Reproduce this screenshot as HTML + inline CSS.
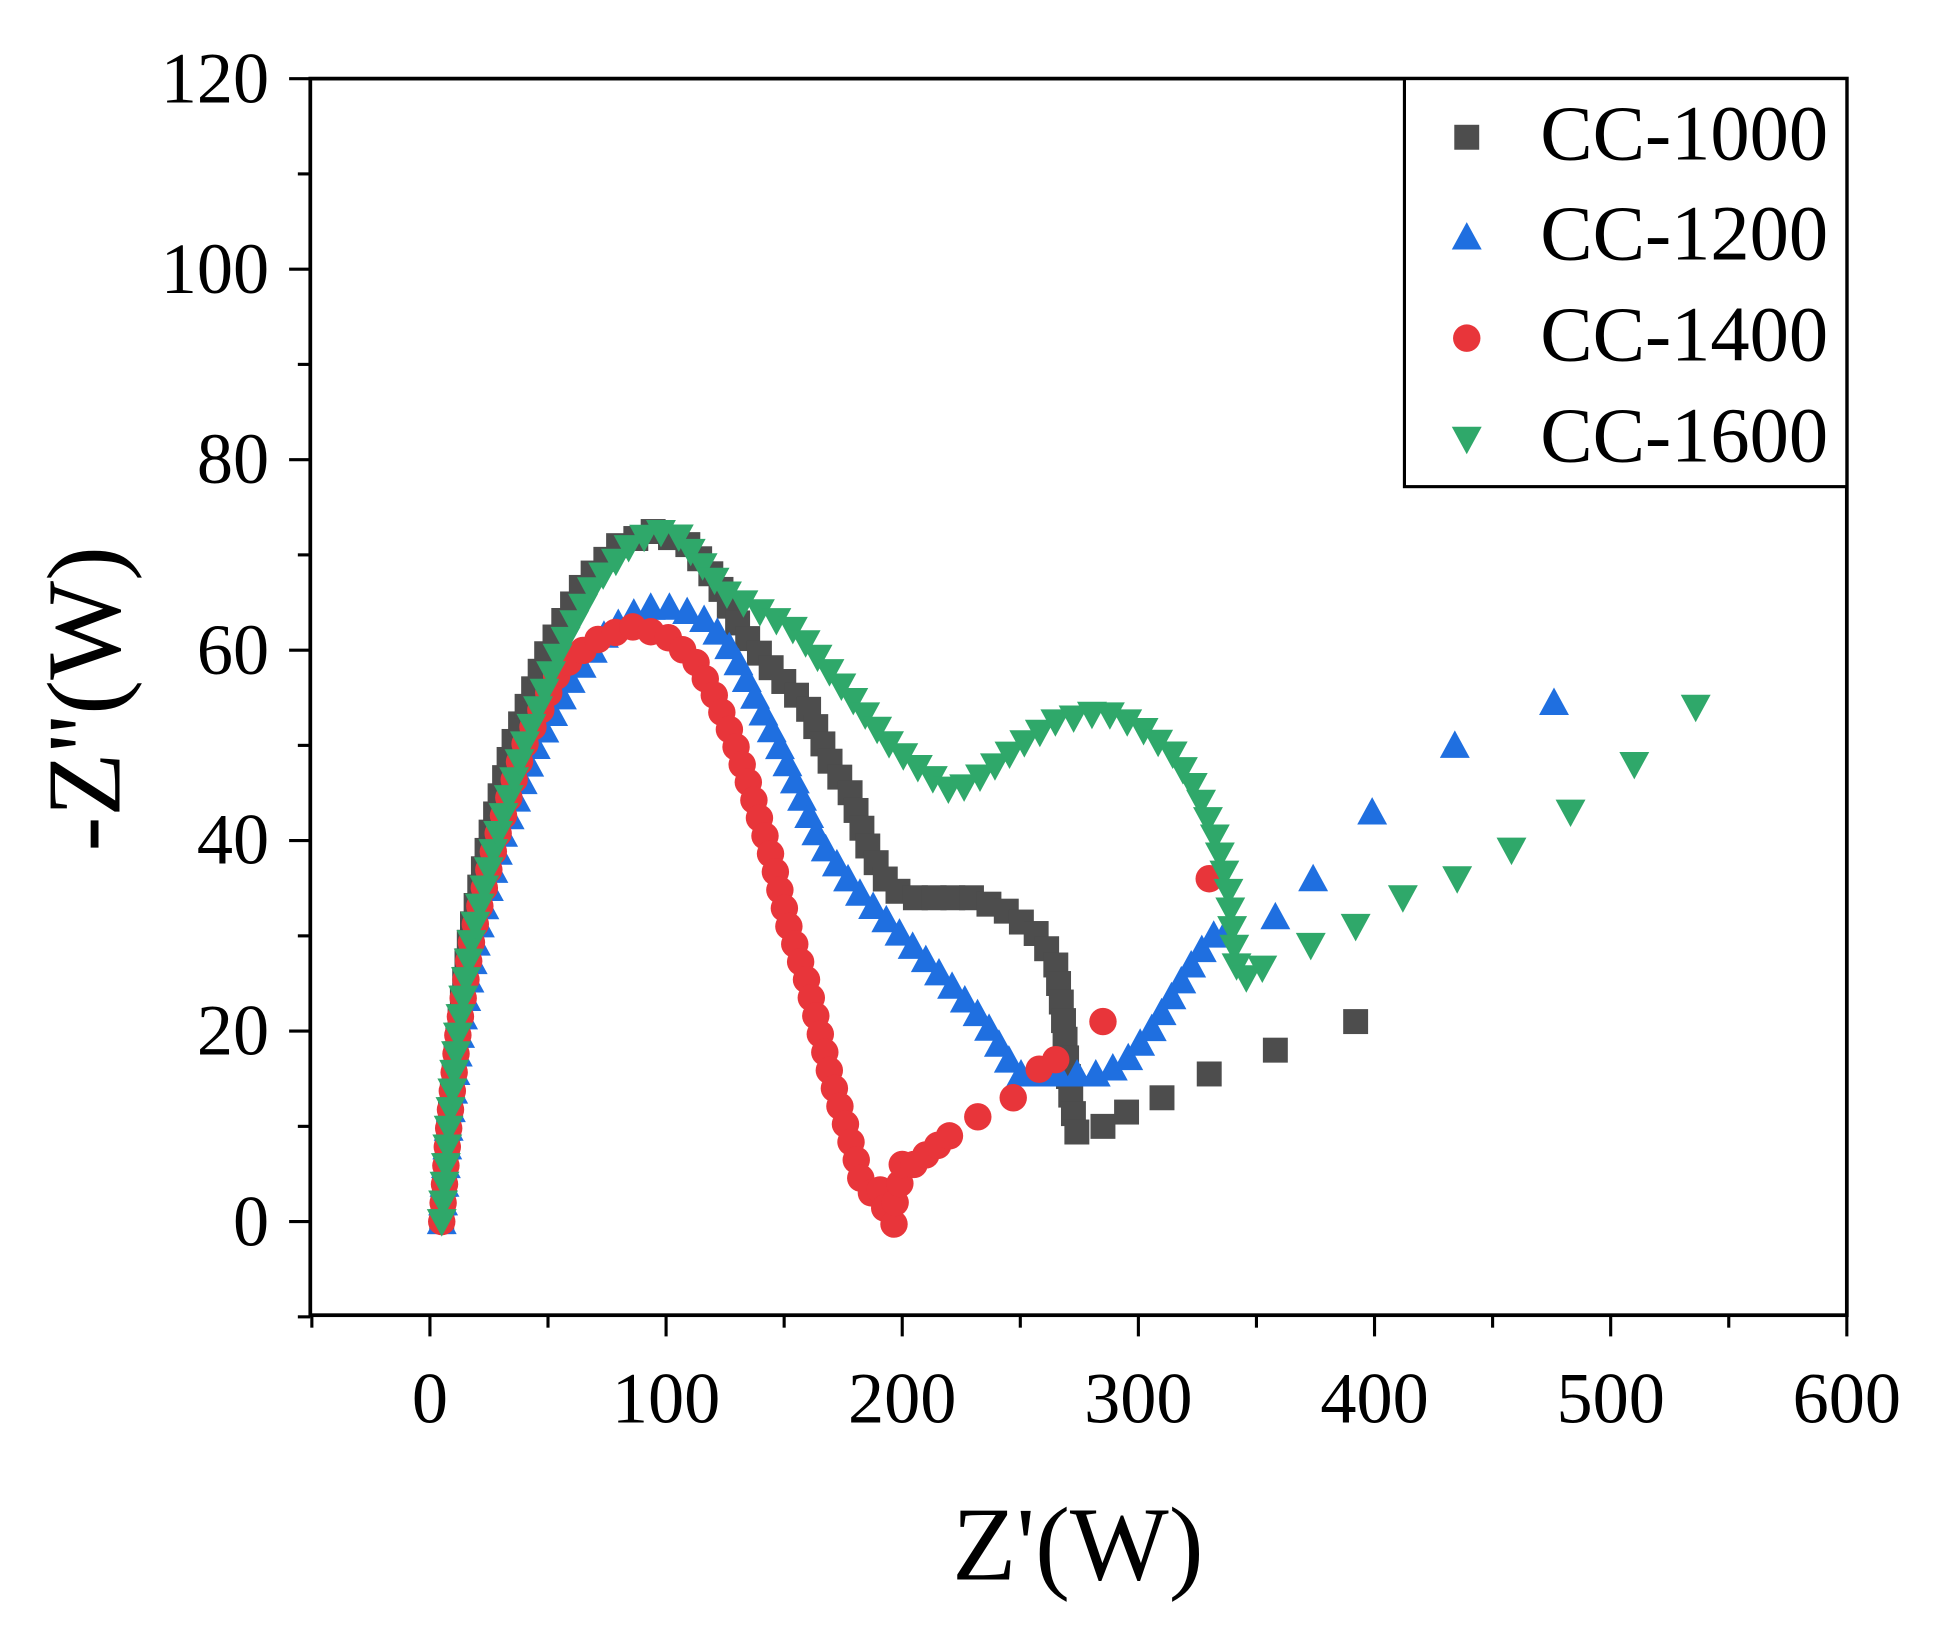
<!DOCTYPE html>
<html><head><meta charset="utf-8"><style>html,body{margin:0;padding:0;background:#fff}svg{display:block}</style></head>
<body>
<svg id="s" width="1954" height="1634" viewBox="0 0 1568 1309.5" preserveAspectRatio="none" xmlns="http://www.w3.org/2000/svg" font-family="Liberation Serif, serif">
<rect x="0" y="0" width="1570" height="1310" fill="#fff"/>
<g id="ticks" stroke="#000" stroke-width="2.5"></g>
<g id="pts"></g>
<rect x="249" y="63" width="1233" height="991" fill="none" stroke="#000" stroke-width="3"/>
<g font-size="58" text-anchor="middle" fill="#000">
<text x="345" y="1140">0</text><text x="534.5" y="1140">100</text><text x="724" y="1140">200</text><text x="913.5" y="1140">300</text><text x="1103" y="1140">400</text><text x="1292.5" y="1140">500</text><text x="1482" y="1140">600</text>
</g>
<g font-size="58" text-anchor="end" fill="#000">
<text x="216" y="82">120</text><text x="216" y="235">100</text><text x="216" y="387">80</text><text x="216" y="540">60</text><text x="216" y="692">40</text><text x="216" y="845">20</text><text x="216" y="998">0</text>
</g>
<text x="865" y="1266" font-size="84" text-anchor="middle">Z'(W)</text>
<text transform="translate(96,560) rotate(-90)" font-size="84" text-anchor="middle">-Z''(W)</text>
<rect x="1127" y="63" width="355" height="327" fill="#fff" stroke="#000" stroke-width="2.5"/>
<g font-size="63" fill="#000">
<text x="1236" y="128">CC-1000</text><text x="1236" y="208">CC-1200</text><text x="1236" y="289">CC-1400</text><text x="1236" y="370">CC-1600</text>
</g>
<g id="leg"></g>
</svg>
<script>
function X(v){return 345+v*1.895}function Y(v){return 979-v*7.633}
var t=document.getElementById('ticks'),h='';
for(var v=-50;v<=600;v+=50){var x=X(v),L=(v%100==0)?17:10;h+='<line x1="'+x+'" y1="1054" x2="'+x+'" y2="'+(1054+L)+'"/>';}
for(var v=-10;v<=120;v+=10){var y=Y(v),L=(v%20==0)?17:10;h+='<line x1="249" y1="'+y+'" x2="'+(249-L)+'" y2="'+y+'"/>';}
t.innerHTML=h;
var C={sq:'#4d4d4d',up:'#1f6fe0',ci:'#e8353a',dn:'#2fa86a'};
function mk(type,x,y){var c=C[type];
 if(type=='sq')return '<rect x="'+(x-10)+'" y="'+(y-10)+'" width="20" height="20" fill="'+c+'"/>';
 if(type=='ci')return '<circle cx="'+x+'" cy="'+y+'" r="11" fill="'+c+'"/>';
 if(type=='up')return '<polygon points="'+x+','+(y-12)+' '+(x+12)+','+(y+10)+' '+(x-12)+','+(y+10)+'" fill="'+c+'"/>';
 return '<polygon points="'+x+','+(y+12)+' '+(x+12)+','+(y-10)+' '+(x-12)+','+(y-10)+'" fill="'+c+'"/>';}
function dense(pts,step){var out=[],acc=0;var p=pts.map(function(a){return[X(a[0]),Y(a[1])]});out.push(p[0]);
 for(var i=1;i<p.length;i++){var dx=p[i][0]-p[i-1][0],dy=p[i][1]-p[i-1][1],d=Math.hypot(dx,dy);var s=step-acc;
  while(s<=d){out.push([p[i-1][0]+dx*s/d,p[i-1][1]+dy*s/d]);s+=step;}acc=d-(s-step);}
 return out;}
function sparse(pts){return pts.map(function(a){return[X(a[0]),Y(a[1])]})}
var S=[
['sq',[[5,0],[8,10],[12,20],[17,30],[25,40],[35,50],[50,60],[65,67],[80,71],[95,72.5],[110,71],[122,67],[132,62],[145,58],[160,54],[170,48],[178,45],[186,39],[195,35],[205,34],[230,34],[245,32.5],[258,30],[265,27],[268,22],[270,16],[272,12],[275,8]],[[285,10],[295,11.5],[310,13],[330,15.5],[358,18],[392,21]]],
['up',[[5,0],[8,10],[13,20],[20,30],[30,40],[45,50],[60,57],[75,62],[90,64.5],[105,64.5],[118,63],[128,60],[138,55],[148,50],[155,46],[165,40],[180,35],[200,30],[220,25],[235,21],[245,17],[250,15.5],[270,15.5],[285,15.5],[295,17],[305,20],[315,24],[325,28],[335,31],[340,30]],[[358,32],[374,36],[399,43],[434,50],[476,54.5]]],
['ci',[[5,0],[8,10],[12,20],[18,30],[28,40],[40,50],[55,58],[70,61],[85,62.5],[100,61.5],[112,59],[120,55.5],[128,51],[135,46],[140,42],[145,38],[148,35],[152,31],[156,28],[160,25],[165,20],[170,15],[175,11],[180,7],[183,4],[187,3],[190,4],[193,1],[196,0],[198,-1],[200,-2]],[[197,2],[199,4],[200,6],[205,6],[210,7],[215,8],[220,9],[232,11],[247,13],[258,16],[265,17],[285,21],[330,36]]],
['dn',[[5,0],[8,10],[12,20],[18,30],[28,40],[40,50],[55,60],[70,67],[85,71],[95,72.5],[105,72],[115,69],[125,66],[140,64],[155,62],[165,59],[175,56],[185,53],[195,50],[210,47],[222,45],[235,47],[250,50],[265,52.5],[285,53.5],[300,52],[315,49],[325,45],[333,40],[338,35],[340,30],[342,26],[345,25.5],[355,27]],[[373,29],[392,31],[412,34],[435,36],[458,39],[483,43],[510,48],[536,54]]]
];
var g='';
S.forEach(function(s){dense(s[1],15).concat(sparse(s[2])).forEach(function(p){g+=mk(s[0],p[0],p[1]);});});
document.getElementById('pts').innerHTML=g;
document.getElementById('leg').innerHTML=mk('sq',1177,110)+mk('up',1177,190)+mk('ci',1177,271)+mk('dn',1177,352);
</script>
</body></html>
